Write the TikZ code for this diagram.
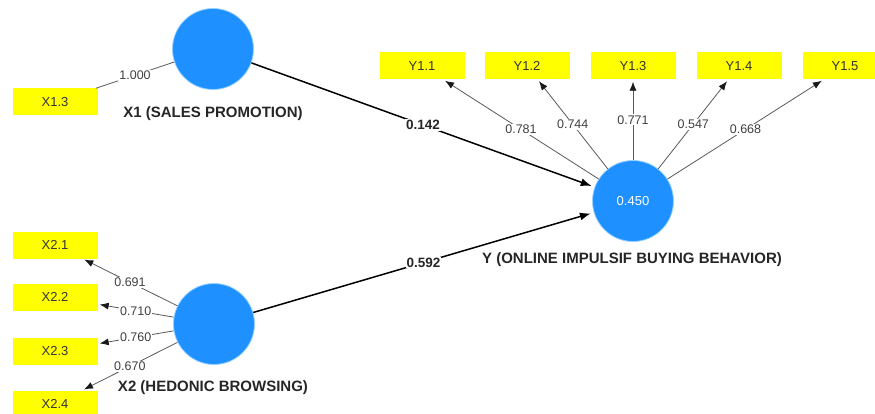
\documentclass[tikz,border=0pt]{standalone}
\usepackage{fontspec}
\setmainfont{Liberation Sans}
\usetikzlibrary{arrows.meta}

\definecolor{lvblue}{RGB}{30,144,255}
\definecolor{lvrim}{RGB}{150,210,255}
\definecolor{mvyellow}{RGB}{255,255,0}

\begin{document}
\begin{tikzpicture}[x=1pt, y=-1pt,
  latent/.style={circle, fill=lvblue, draw=lvrim, line width=0.8pt,
    minimum size=81pt, inner sep=0pt},
  indicator/.style={rectangle, fill=mvyellow, minimum width=85pt,
    minimum height=27pt, inner sep=0pt, text=black!80,
    font=\fontsize{13}{15}\selectfont},
  caption/.style={text=black!85, font=\bfseries\fontsize{15}{17}\selectfont},
  weight/.style={fill=white, inner sep=1pt, text=black!75,
    font=\fontsize{12.5}{14}\selectfont},
  coef/.style={fill=white, inner sep=1pt, text=black!85,
    font=\bfseries\fontsize{13.5}{15}\selectfont},
  outer/.style={draw=black!65, line width=0.8pt},
  loading/.style={outer, -{Latex[length=9pt,width=7pt,color=black!90]},
    shorten >=2pt},
  structural/.style={draw=black, line width=1.5pt,
    -{Latex[length=11pt,width=8pt]}, shorten >=3pt}]

  \useasboundingbox (0,0) rectangle (875,414);

  % Latent variables
  \node[latent] (X1) at (213,49) {};
  \node[latent] (X2) at (214,324) {};
  \node[latent, text=white, font=\fontsize{13}{15}\selectfont] (Y) at (633,201) {0.450};

  \node[caption] (X1cap) at (213,114) {X1 (SALES PROMOTION)};
  \node[caption] (X2cap) at (213,388) {X2 (HEDONIC BROWSING)};
  \node[caption] (Ycap) at (632,260) {Y (ONLINE IMPULSIF BUYING BEHAVIOR)};

  % Indicators
  \node[indicator] (X13) at (55,102) {X1.3};
  \foreach \i/\ypos in {1/245, 2/297, 3/351, 4/404}
    \node[indicator] (X2\i) at (55,\ypos) {X2.\i};
  \foreach \i/\xpos in {1/422, 2/527, 3/633, 4/739, 5/845}
    \node[indicator] (Y1\i) at (\xpos,66) {Y1.\i};

  % Outer loadings
  \draw[outer] (X13) -- (X1) node[weight, midway] {1.000};
  \foreach \i/\w in {1/0.691, 2/0.710, 3/0.760, 4/0.670}
    \draw[loading] (X2) -- (X2\i) node[weight, midway] {\w};
  \foreach \i/\w in {1/0.781, 2/0.744, 3/0.771, 4/0.547, 5/0.668}
    \draw[loading] (Y) -- (Y1\i) node[weight, midway] {\w};

  % Path coefficients
  \draw[structural] (X1) -- (Y) node[coef, midway] {0.142};
  \draw[structural] (X2) -- (Y) node[coef, midway] {0.592};
\end{tikzpicture}
\end{document}
